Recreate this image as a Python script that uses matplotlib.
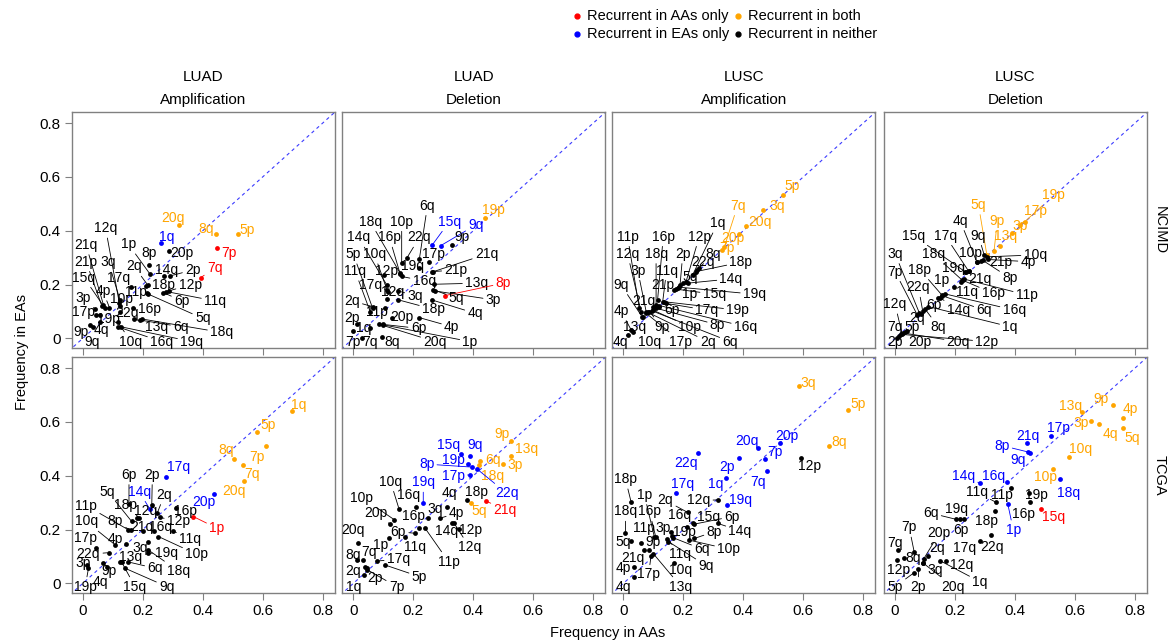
import matplotlib
matplotlib.use('Agg')
import matplotlib.pyplot as plt
from matplotlib.lines import Line2D

plt.rcParams['font.family'] = ['Liberation Sans', 'DejaVu Sans']

# ---- LUAD amplification, NCIMD ----
luad_amp_nc_arm = ['20q', '8q', '5p', '1q', '7p', '7q', '20p', '8p', '1p', '2q', '14q', '2p', '12p', '18p',
                   '11p', '6p', '11q', '5q', '17q', '16p', '13q', '6q', '18q', '19q', '16q', '10q', '12q',
                   '3q', '10p', '22q', '4p', '21q', '21p', '15q', '3p', '17p', '19p', '4q', '9p', '9q']
luad_amp_nc_aa = [.321, .444, .519, .26, .449, .394, .286, .222, .224, .216, .271, .291, .286, .211,
                  .213, .269, .278, .219, .16, .167, .171, .191, .197, .127, .116, .116, .122,
                  .124, .124, .124, .089, .069, .063, .074, .041, .044, .058, .058, .024, .033]
luad_amp_nc_ea = [.422, .387, .388, .355, .335, .226, .325, .273, .239, .199, .232, .232, .176, .196,
                  .167, .17, .174, .164, .192, .112, .072, .068, .072, .043, .043, .062, .13,
                  .143, .122, .097, .114, .124, .122, .112, .109, .087, .087, .062, .05, .043]
luad_amp_nc_grp = ['o', 'o', 'o', 'b', 'r', 'r'] + ['k'] * 34
luad_amp_nc_lx = [.299, .41, .547, .28, .486, .44, .33, .222, .152, .171, .278, .367, .358, .269,
                  .178, .33, .441, .40, .119, .224, .247, .327, .463, .363, .263, .16, .076,
                  .086, .13, .147, .067, .011, .011, .004, .002, .002, .086, .063, -.007, .03]
luad_amp_nc_ly = [.447, .407, .404, .378, .316, .262, .319, .316, .35, .267, .254, .254, .199, .199,
                  .171, .139, .139, .074, .226, .108, .043, .043, .022, -.012, -.012, -.012, .409,
                  .282, .146, .093, .176, .347, .285, .226, .151, .099, .072, .031, .025, -.012]

# ---- LUAD deletion, NCIMD ----
luad_del_nc_arm = ['19p', '15q', '9q', '9p', '6q', '18q', '10p', '14q', '16p', '22q', '5p', '10q', '17p',
                   '21q', '19q', '21p', '11q', '12p', '16q', '13q', '8p', '17q', '12q', '3q', '5q', '3p',
                   '4q', '18p', '2q', '11p', '20p', '4p', '2p', '1q', '6p', '20q', '1p', '7p', '7q', '8q']
luad_del_nc_aa = [.439, .263, .292, .33, .22, .156, .161, .111, .156, .178, .064, .114, .253,
                  .267, .22, .263, .056, .103, .161, .269, .306, .111, .113, .15, .267, .272,
                  .261, .15, .064, .106, .128, .22, .011, .056, .098, .087, .1, .0, .028, .094]
luad_del_nc_ea = [.447, .347, .345, .347, .295, .242, .279, .199, .239, .298, .112, .174, .283,
                  .248, .261, .248, .099, .236, .23, .201, .159, .18, .146, .176, .18, .176,
                  .143, .143, .118, .114, .077, .077, .052, .04, .052, .052, .05, .027, .002, .006]
luad_del_nc_grp = ['o', 'b', 'b'] + ['k'] * 17 + ['r'] + ['k'] * 19
luad_del_nc_lx = [.467, .32, .409, .361, .247, .056, .161, .017, .12, .22, .0, .07, .267,
                  .444, .197, .342, .006, .109, .236, .411, .5, .056, .131, .206, .344, .467,
                  .406, .267, -.005, .078, .161, .328, -.005, .033, .217, .272, .389, .0, .056, .128]
luad_del_nc_ly = [.478, .434, .422, .375, .493, .434, .434, .375, .375, .375, .313, .313, .313,
                  .313, .267, .254, .25, .25, .213, .205, .205, .199, .174, .158, .15, .143,
                  .093, .108, .139, .099, .081, .043, .074, .037, .037, -.012, -.012, -.012, -.012, -.012]

# ---- LUSC amplification, NCIMD ----
lusc_amp_nc_arm = ['5p', '3q', '20q', '20p', '7q', '7p', '1q', '11p', '16p', '12p', '12q', '18q', '2p',
                   '8q', '22q', '18p', '3p', '11q', '5q', '14q', '21p', '1p', '15q', '19q', '9q', '21q',
                   '6p', '17q', '19p', '4p', '9p', '10p', '8p', '16q', '13q', '4q', '10q', '17p', '2q', '6q']
lusc_amp_nc_aa = [.531, .464, .409, .384, .337, .329, .231, .053, .114, .209, .059, .109, .189,
                  .253, .244, .242, .076, .131, .198, .214, .181, .17, .175, .187, .062, .098,
                  .12, .142, .136, .026, .087, .098, .109, .12, .064, .014, .031, .076, .081, .096]
lusc_amp_nc_ea = [.531, .478, .416, .387, .341, .329, .236, .112, .143, .211, .099, .124, .199,
                  .261, .254, .248, .099, .136, .205, .205, .186, .18, .183, .19, .081, .118,
                  .118, .13, .136, .031, .099, .105, .112, .122, .081, .012, .025, .093, .097, .102]
lusc_amp_nc_grp = ['o'] * 6 + ['k'] * 34
lusc_amp_nc_lx = [.564, .514, .456, .364, .381, .344, .314, .014, .133, .253, .014, .109, .198,
                  .298, .264, .392, .048, .144, .222, .359, .131, .22, .303, .437, -.008, .067,
                  .162, .278, .381, -.008, .128, .222, .314, .407, .037, -.01, .087, .192, .281, .356]
lusc_amp_nc_ly = [.565, .49, .432, .372, .493, .337, .428, .378, .378, .378, .314, .314, .314,
                  .314, .283, .283, .252, .252, .227, .221, .199, .164, .164, .164, .199, .139,
                  .105, .105, .105, .102, .043, .043, .05, .043, .043, -.012, -.012, -.012, -.012, -.012]

# ---- LUSC deletion, NCIMD ----
lusc_del_nc_arm = ['19p', '17p', '3p', '9p', '13q', '5q', '10q', '4q', '9q', '15q', '17q', '10p', '21p',
                   '4p', '18q', '3q', '7p', '19q', '8p', '18p', '21q', '1p', '11q', '16p', '11p', '22q',
                   '12q', '6p', '14q', '6q', '16q', '1q', '2q', '8q', '5p', '7q', '2p', '20p', '20q', '12p']
lusc_del_nc_aa = [.433, .417, .389, .33, .35, .306, .308, .272, .297, .233, .245, .272, .286,
                  .31, .222, .081, .074, .237, .292, .156, .248, .197, .219, .225, .231, .092,
                  .023, .144, .15, .158, .167, .111, .086, .1, .039, .012, .006, .032, .026, .019]
lusc_del_nc_ea = [.434, .422, .391, .325, .345, .31, .303, .285, .31, .248, .25, .283, .288,
                  .293, .218, .094, .087, .246, .29, .161, .251, .192, .211, .216, .22, .102,
                  .017, .149, .151, .158, .165, .118, .092, .109, .027, .01, .002, .025, .02, .015]
lusc_del_nc_grp = ['o'] * 6 + ['k'] * 34
lusc_del_nc_lx = [.528, .467, .417, .341, .367, .278, .467, .217, .278, .061, .167, .25, .352,
                  .444, .128, .0, .0, .194, .383, .083, .283, .156, .239, .328, .439, .078,
                  .0, .128, .211, .297, .397, .383, .072, .144, .056, .0, .0, .083, .211, .306]
lusc_del_nc_ly = [.531, .472, .416, .437, .382, .496, .31, .437, .382, .382, .382, .319, .285,
                  .285, .313, .314, .248, .261, .224, .255, .221, .216, .174, .167, .161, .189,
                  .127, .124, .105, .105, .105, .043, .074, .043, .043, .043, -.012, -.012, -.012, -.012]

# ---- LUAD amplification, TCGA ----
luad_amp_tc_arm = ['1q', '5p', '7p', '8q', '7q', '20q', '17q', '14q', '20p', '1p', '6p', '2p', '2q',
                   '16p', '5q', '18p', '12q', '12p', '21q', '16q', '11p', '8p', '10q', '11q', '4p',
                   '17p', '3q', '19q', '10p', '22q', '13q', '6q', '18q', '3p', '9p', '15q', '9q', '4q', '19p']
luad_amp_tc_aa = [.697, .582, .61, .504, .533, .536, .277, .224, .438, .369, .154, .23, .249,
                  .311, .163, .189, .182, .258, .2, .238, .152, .16, .108, .3, .144,
                  .044, .216, .216, .252, .086, .124, .15, .217, .013, .069, .13, .141, .08, .019]
luad_amp_tc_ea = [.639, .562, .509, .463, .438, .381, .397, .275, .331, .248, .295, .292, .263,
                  .279, .23, .242, .242, .245, .195, .196, .199, .197, .143, .195, .145,
                  .133, .155, .112, .174, .114, .081, .08, .125, .068, .074, .078, .056, .06, .056]
luad_amp_tc_grp = ['o'] * 6 + ['b', 'b', 'b', 'r'] + ['k'] * 29
luad_amp_tc_lx = [.719, .619, .58, .477, .563, .504, .319, .188, .404, .447, .154, .232, .272,
                  .344, .083, .144, .208, .319, .197, .258, .011, .108, .011, .358, .108,
                  .008, .191, .28, .38, .019, .158, .241, .319, .0, .089, .174, .28, .058, .008]
luad_amp_tc_ly = [.664, .587, .468, .496, .406, .344, .434, .341, .304, .205, .403, .403, .329,
                  .267, .341, .292, .269, .23, .211, .211, .289, .23, .23, .165, .165,
                  .168, .133, .112, .108, .108, .099, .056, .046, .074, .046, -.012, -.012, .006, -.012]

# ---- LUAD deletion, TCGA ----
luad_del_tc_arm = ['9p', '13q', '3p', '6q', '18q', '5q', '15q', '9q', '19p', '8p', '17p', '22q', '19q',
                   '21q', '18p', '4q', '10q', '16q', '10p', '3q', '4p', '20p', '16p', '12p', '14q', '12q',
                   '6p', '11q', '11p', '20q', '1p', '8q', '7q', '17q', '5p', '2q', '2p', '7p', '1q']
luad_del_tc_aa = [.526, .524, .5, .422, .419, .391, .358, .389, .383, .396, .389, .411, .233,
                  .442, .378, .311, .152, .208, .137, .248, .289, .122, .22, .353, .328, .336,
                  .206, .172, .239, .017, .12, .013, .033, .08, .106, .039, .044, .047, .035]
luad_del_tc_ea = [.53, .475, .443, .453, .438, .298, .48, .475, .443, .432, .403, .426, .298,
                  .306, .31, .282, .277, .282, .236, .244, .242, .22, .205, .202, .223, .223,
                  .186, .174, .205, .149, .17, .087, .087, .083, .068, .062, .056, .05, .03]
luad_del_tc_grp = ['o'] * 6 + ['b'] * 7 + ['r'] + ['k'] * 25
luad_del_tc_lx = [.494, .576, .539, .464, .464, .42, .317, .406, .333, .244, .333, .511, .233,
                  .506, .411, .32, .124, .183, .028, .272, .344, .076, .2, .391, .311, .387,
                  .15, .206, .317, .0, .092, .0, .053, .15, .22, .0, .072, .144, .0]
luad_del_tc_ly = [.555, .5, .438, .458, .398, .267, .515, .515, .459, .443, .4, .335, .375,
                  .273, .339, .335, .378, .329, .319, .277, .261, .261, .249, .199, .195, .135,
                  .192, .136, .081, .199, .143, .105, .115, .09, .025, .046, .019, -.012, -.012]

# ---- LUSC amplification, TCGA ----
lusc_amp_tc_arm = ['3q', '5p', '8q', '12p', '20p', '20q', '7p', '22q', '2p', '7q', '1q', '17q', '19q',
                   '12q', '2q', '18p', '1p', '18q', '16p', '16q', '15q', '6p', '14q', '3p', '11p', '5q',
                   '9p', '19p', '8p', '6q', '10p', '11q', '9q', '21q', '10q', '4p', '17p', '13q', '4q']
lusc_amp_tc_aa = [.584, .748, .687, .592, .522, .448, .473, .248, .384, .479, .342, .176, .346,
                  .314, .214, .026, .103, .007, .108, .211, .233, .236, .314, .159, .059, .026,
                  .087, .162, .237, .165, .218, .147, .15, .07, .168, .037, .092, .1, .037]
lusc_amp_tc_ea = [.732, .645, .509, .465, .521, .502, .462, .484, .465, .416, .391, .335, .292,
                  .31, .264, .301, .174, .186, .172, .21, .223, .22, .223, .19, .149, .159,
                  .124, .175, .167, .17, .161, .165, .155, .124, .077, .06, .1, .11, .025]
lusc_amp_tc_grp = ['o', 'o', 'o', 'k'] + ['b'] * 9 + ['k'] * 26
lusc_amp_tc_lx = [.617, .784, .718, .622, .544, .413, .506, .209, .344, .448, .309, .198, .389,
                  .251, .14, .007, .07, .007, .087, .187, .284, .362, .389, .131, .07, .0,
                  .098, .203, .303, .262, .351, .189, .276, .031, .192, .0, .084, .192, .0]
lusc_amp_tc_ly = [.744, .666, .524, .437, .546, .53, .488, .447, .434, .378, .368, .368, .308,
                  .308, .308, .387, .329, .267, .267, .254, .246, .248, .195, .205, .205, .155,
                  .152, .192, .192, .127, .127, .108, .066, .093, .05, .056, .033, -.012, -.012]

# ---- LUSC deletion, TCGA ----
lusc_del_tc_arm = ['9p', '4p', '13q', '3p', '4q', '5q', '10q', '10p', '17p', '21q', '8p', '9q', '14q',
                   '16q', '18q', '1p', '15q', '11q', '11p', '19p', '16p', '18p', '6q', '19q', '6p', '22q',
                   '17q', '7p', '20p', '7q', '2q', '8q', '12q', '1q', '3q', '12p', '2p', '20q', '5p']
lusc_del_tc_aa = [.726, .761, .622, .652, .681, .759, .581, .526, .519, .441, .444, .45, .283,
                  .372, .55, .376, .486, .337, .386, .447, .45, .333, .203, .23, .215, .319,
                  .283, .064, .095, .009, .11, .031, .17, .15, .092, .006, .078, .094, .064]
lusc_del_tc_ea = [.661, .614, .635, .602, .592, .579, .471, .426, .546, .521, .488, .486, .372,
                  .378, .387, .294, .277, .301, .354, .335, .304, .267, .238, .239, .238, .18,
                  .158, .115, .09, .124, .1, .093, .084, .084, .074, .087, .053, .075, .04]
lusc_del_tc_grp = ['o'] * 8 + ['b'] * 8 + ['r'] + ['k'] * 22
lusc_del_tc_lx = [.686, .786, .586, .619, .717, .789, .617, .5, .544, .444, .356, .411, .228,
                  .328, .578, .394, .53, .272, .356, .472, .428, .306, .119, .206, .219, .322,
                  .233, .047, .147, .0, .139, .061, .222, .283, .133, .011, .078, .194, .0]
lusc_del_tc_ly = [.686, .648, .658, .596, .555, .54, .5, .397, .577, .546, .512, .459, .4,
                  .4, .337, .199, .248, .339, .329, .329, .258, .23, .261, .277, .199, .136,
                  .13, .208, .186, .149, .13, .093, .068, .006, .05, .05, -.012, -.012, -.012]

cancers = ['LUAD', 'LUAD', 'LUSC', 'LUSC']
events = ['Amplification', 'Deletion', 'Amplification', 'Deletion']
cohorts = ['NCIMD', 'TCGA']
ticks = [0, 0.2, 0.4, 0.6, 0.8]
tick_labels = ['0', '0.2', '0.4', '0.6', '0.8']

legend_names = ['Recurrent in AAs only', 'Recurrent in EAs only', 'Recurrent in both', 'Recurrent in neither']
legend_codes = ['r', 'b', 'o', 'k']

COLORS = {'r': '#ff0000', 'b': '#0000ff', 'o': '#ffa500', 'k': '#000000'}
W, H = 1176, 643
LABEL_SIZE = 10


def draw_panel(ax, arms, aa, ea, grp, lx, ly):
    ax.set_xlim(-0.037, 0.84)
    ax.set_ylim(-0.037, 0.84)
    ax.plot([-1, 1], [-1, 1], ls=(0, (3, 3)), color='#3a3aff', lw=0.8, zorder=1)
    for i in range(len(arms)):
        c = COLORS[grp[i]]
        ax.scatter(aa[i], ea[i], s=12, color=c, zorder=3, linewidths=0)
        p = ax.transData.transform((aa[i], ea[i]))
        q = ax.transData.transform((lx[i], ly[i]))
        d = ((p[0] - q[0]) ** 2 + (p[1] - q[1]) ** 2) ** 0.5
        if d > 16:
            ax.annotate(arms[i], xy=(aa[i], ea[i]), xytext=(lx[i], ly[i]),
                        ha='center', va='center', color=c, fontsize=LABEL_SIZE, zorder=4,
                        arrowprops=dict(arrowstyle='-', color=c, lw=0.6,
                                        shrinkA=0, shrinkB=1))
        else:
            ax.text(lx[i], ly[i], arms[i], ha='center', va='center', color=c,
                    fontsize=LABEL_SIZE, zorder=4)


fig = plt.figure(figsize=(W / 100, H / 100), dpi=100)

lefts = [71.7, 342.3, 612.3, 884]
tops = [112.3, 357.3]
pw, ph = 263, 236

panels = [
    [(luad_amp_nc_arm, luad_amp_nc_aa, luad_amp_nc_ea, luad_amp_nc_grp, luad_amp_nc_lx, luad_amp_nc_ly),
     (luad_del_nc_arm, luad_del_nc_aa, luad_del_nc_ea, luad_del_nc_grp, luad_del_nc_lx, luad_del_nc_ly),
     (lusc_amp_nc_arm, lusc_amp_nc_aa, lusc_amp_nc_ea, lusc_amp_nc_grp, lusc_amp_nc_lx, lusc_amp_nc_ly),
     (lusc_del_nc_arm, lusc_del_nc_aa, lusc_del_nc_ea, lusc_del_nc_grp, lusc_del_nc_lx, lusc_del_nc_ly)],
    [(luad_amp_tc_arm, luad_amp_tc_aa, luad_amp_tc_ea, luad_amp_tc_grp, luad_amp_tc_lx, luad_amp_tc_ly),
     (luad_del_tc_arm, luad_del_tc_aa, luad_del_tc_ea, luad_del_tc_grp, luad_del_tc_lx, luad_del_tc_ly),
     (lusc_amp_tc_arm, lusc_amp_tc_aa, lusc_amp_tc_ea, lusc_amp_tc_grp, lusc_amp_tc_lx, lusc_amp_tc_ly),
     (lusc_del_tc_arm, lusc_del_tc_aa, lusc_del_tc_ea, lusc_del_tc_grp, lusc_del_tc_lx, lusc_del_tc_ly)],
]

for r in range(2):
    for c in range(4):
        ax = fig.add_axes([lefts[c] / W, 1 - (tops[r] + ph) / H, pw / W, ph / H])
        draw_panel(ax, *panels[r][c])
        for s in ax.spines.values():
            s.set_color('#808080')
            s.set_linewidth(1)
        ax.set_xticks(ticks)
        ax.tick_params(direction='out', length=5, color='#808080', labelsize=11, pad=3)
        if r == 1:
            ax.set_xticklabels(tick_labels)
        else:
            ax.set_xticklabels([])
        if c == 0:
            ax.set_yticks(ticks)
            ax.set_yticklabels(tick_labels)
        else:
            ax.set_yticks([])
        if r == 0:
            cx = (lefts[c] + pw / 2) / W
            fig.text(cx, 1 - 77 / H, cancers[c], ha='center', va='center', fontsize=11)
            fig.text(cx, 1 - 100 / H, events[c], ha='center', va='center', fontsize=11)
    fig.text(1160 / W, 1 - (tops[r] + ph / 2) / H, cohorts[r], rotation=270,
             ha='center', va='center', fontsize=10.5)

fig.text(22 / W, 1 - 352 / H, 'Frequency in EAs', rotation=90, ha='center', va='center', fontsize=10.5)
fig.text(608 / W, 1 - 633 / H, 'Frequency in AAs', ha='center', va='center', fontsize=10.5)

# legend drawn in two columns
leg_x = [576.7, 576.7, 738.3, 738.3]
leg_y = [15.7, 34, 15.7, 34]
for i in range(4):
    fig.add_artist(Line2D([leg_x[i] / W], [1 - leg_y[i] / H], marker='o', ls='', markersize=3.5,
                          color=COLORS[legend_codes[i]], transform=fig.transFigure))
    fig.text((leg_x[i] + 10) / W, 1 - leg_y[i] / H, legend_names[i], ha='left', va='center',
             fontsize=10.5)

fig.savefig('out.png', dpi=100)
